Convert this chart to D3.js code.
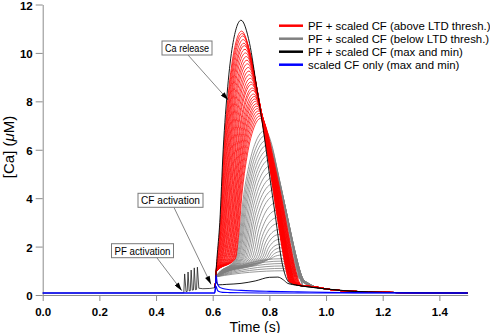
<!DOCTYPE html>
<html>
<head>
<meta charset="utf-8">
<script src="https://cdn.jsdelivr.net/npm/d3@7"></script>
<style>
body { margin: 0; background: #fff; }
svg { display: block; font-family: "Liberation Sans", Arial, sans-serif; }
</style>
</head>
<body>
<div class="container"></div>
<script>
/* Params */
const width = 490;
const height = 333;

/* Data */

// shared PF part of the "PF + scaled CF" traces: baseline, 5 PF spikes, plateau
const pfT = [0, 0.498, 0.501, 0.506, 0.510, 0.513, 0.517, 0.521, 0.524, 0.528, 0.532, 0.535, 0.539, 0.543, 0.546, 0.551, 0.565, 0.590, 0.607];
const pfY = [0.08, 0.09, 0.87, 0.14, 0.15, 0.95, 0.17, 0.18, 1.03, 0.20, 0.21, 1.12, 0.22, 0.23, 1.15, 0.28, 0.26, 0.27, 0.30];

// black traces after the CF (max and min)
const blackMaxT = [0.607, 0.610, 0.612, 0.615, 0.625, 0.637, 0.653, 0.670, 0.700, 0.730, 0.755, 0.779, 0.800, 0.822, 0.843, 0.860, 0.875, 0.900, 0.940, 1.0, 1.1, 1.2, 1.35, 1.5];
const blackMaxY = [0.30, 0.5, 1.0, 1.5, 3.0, 6.0, 8.6, 10.3, 11.35, 10.4, 8.6, 6.8, 5.0, 3.2, 1.44, 0.69, 0.48, 0.40, 0.33, 0.25, 0.15, 0.11, 0.09, 0.08];
const blackMinT = [0.607, 0.610, 0.612, 0.618, 0.650, 0.700, 0.750, 0.800, 0.830, 0.850, 0.865, 0.900, 0.940, 1.0, 1.1, 1.2, 1.35, 1.5];
const blackMinY = [0.30, 0.45, 0.55, 0.42, 0.44, 0.48, 0.58, 0.73, 0.74, 0.62, 0.48, 0.40, 0.33, 0.25, 0.15, 0.11, 0.09, 0.08];

// scaled CF only (max and min)
const blueMaxT = [0, 0.607, 0.610, 0.612, 0.616, 0.622, 0.635, 0.660, 0.700, 0.800, 0.900, 1.0, 1.1, 1.2, 1.5];
const blueMaxY = [0.08, 0.08, 0.50, 0.82, 0.50, 0.35, 0.27, 0.22, 0.19, 0.15, 0.13, 0.11, 0.10, 0.09, 0.08];
const blueMinT = [0, 0.607, 0.610, 0.612, 0.616, 0.622, 0.635, 0.660, 0.700, 0.800, 1.5];
const blueMinY = [0.08, 0.08, 0.25, 0.36, 0.22, 0.14, 0.11, 0.10, 0.09, 0.08, 0.08];

// shape of the CF transient (fraction of time / of amplitude)
const riseTau = [0, 0.12, 0.26, 0.45, 0.65, 1];
const riseFrac = [0, 0.15, 0.46, 0.72, 0.89, 1];
const fallTau = [0, 0.18, 0.33, 0.57, 0.77, 0.92, 1];
const fallFrac = [1, 0.91, 0.75, 0.48, 0.23, 0.06, 0];
const decayT = [0.92, 0.96, 1.0, 1.1, 1.2, 1.35, 1.5];
const decayY = [0.37, 0.34, 0.25, 0.15, 0.11, 0.09, 0.08];
const liftLevel = 1.5;
const endLevel = 0.55;

// red traces (above LTD thresh.): lift-off time, peak time, peak, end of fall
const redLift = [0.616, 0.617, 0.619, 0.620, 0.622, 0.624, 0.626, 0.628, 0.630, 0.632, 0.634, 0.636, 0.639, 0.641, 0.643, 0.646, 0.648, 0.651, 0.653, 0.656, 0.658, 0.661, 0.663, 0.666, 0.668, 0.671, 0.673, 0.675, 0.678, 0.680];
const redPeakT = [0.702, 0.704, 0.706, 0.708, 0.710, 0.712, 0.714, 0.716, 0.719, 0.721, 0.723, 0.726, 0.728, 0.730, 0.733, 0.735, 0.737, 0.740, 0.742, 0.744, 0.747, 0.749, 0.751, 0.754, 0.756, 0.758, 0.761, 0.764, 0.767, 0.770];
const redPeak = [10.9, 10.8, 10.7, 10.55, 10.4, 10.3, 10.15, 10.0, 9.85, 9.7, 9.55, 9.4, 9.25, 9.1, 8.95, 8.8, 8.7, 8.55, 8.45, 8.3, 8.2, 8.1, 8.0, 7.9, 7.8, 7.7, 7.6, 7.5, 7.4, 7.3];
const redEnd = [0.870, 0.871, 0.872, 0.873, 0.874, 0.875, 0.876, 0.877, 0.878, 0.879, 0.880, 0.881, 0.882, 0.883, 0.884, 0.885, 0.886, 0.887, 0.888, 0.889, 0.890, 0.891, 0.893, 0.895, 0.896, 0.898, 0.900, 0.901, 0.903, 0.905];

// gray traces (below LTD thresh.)
const grayLift = [0.680, 0.683, 0.686, 0.689, 0.692, 0.696, 0.700, 0.704, 0.708, 0.713, 0.718, 0.724, 0.730, 0.737, 0.744, 0.751, 0.758, 0.765, 0.772, 0.779, 0.786, 0.793, 0.800, 0.805, 0.810, 0.815, 0.820, 0.825, 0.830, 0.835];
const grayPeakT = [0.785, 0.788, 0.791, 0.794, 0.797, 0.800, 0.803, 0.806, 0.809, 0.812, 0.814, 0.817, 0.820, 0.823, 0.826, 0.828, 0.830, 0.832, 0.834, 0.836, 0.838, 0.840, 0.842, 0.843, 0.844, 0.845, 0.846, 0.847, 0.848, 0.849];
const grayPeak = [6.8, 6.6, 6.4, 6.2, 6.0, 5.8, 5.6, 5.35, 5.1, 4.85, 4.6, 4.35, 4.1, 3.8, 3.5, 3.2, 2.95, 2.7, 2.5, 2.3, 2.1, 1.95, 1.8, 1.65, 1.5, 1.4, 1.3, 1.2, 1.1, 1.0];
const grayEnd = [0.912, 0.913, 0.914, 0.915, 0.916, 0.917, 0.918, 0.919, 0.920, 0.921, 0.922, 0.922, 0.923, 0.923, 0.924, 0.924, 0.925, 0.925, 0.925, 0.926, 0.926, 0.926, 0.927, 0.927, 0.927, 0.927, 0.928, 0.928, 0.928, 0.928];

// axes, legend and notes
const xTicks = [0, 0.2, 0.4, 0.6, 0.8, 1.0, 1.2, 1.4];
const yTicks = [0, 2, 4, 6, 8, 10, 12];
const legendLabels = [
    'PF + scaled CF (above LTD thresh.)',
    'PF + scaled CF (below LTD thresh.)',
    'PF + scaled CF (max and min)',
    'scaled CF only (max and min)',
];
const legendColors = ['#ff0000', '#808080', '#000000', '#0000ff'];
const noteTexts = ['Ca release', 'CF activation', 'PF activation'];
const noteTargetT = [0.655, 0.594, 0.491];
const noteTargetY = [8.05, 0.44, 0.18];

/* Building traces */

function zip(ts, ys) {
    return ts.map((t, i) => [t, ys[i]]);
}
function transient(lift, peakT, peak, end, startY) {
    const pts = [[pfT[pfT.length - 1], pfY[pfY.length - 1]], [0.610, 0.5], [0.612, startY]];
    if (peak > liftLevel) {
        riseTau.forEach((u, i) => pts.push([lift + u * (peakT - lift), liftLevel + riseFrac[i] * (peak - liftLevel)]));
    } else {
        pts.push([peakT, peak]);
    }
    fallTau.slice(1).forEach((u, i) => pts.push([peakT + u * (end - peakT), endLevel + fallFrac[i + 1] * (peak - endLevel)]));
    decayT.forEach((t, i) => { if (t > end + 0.005) pts.push([t, decayY[i]]); });
    return pts;
}

function draw() {
    const x = d3.scaleLinear().domain([0, 1.5]).range([42.7, 467.7]);
    const y = d3.scaleLinear().domain([0, 12]).range([295, 4.5]);
    const line = d3.line().x(d => x(d[0])).y(d => y(d[1])).curve(d3.curveMonotoneX);
    const straight = d3.line().x(d => x(d[0])).y(d => y(d[1]));

    const svg = d3.select('.container')
        .append('svg')
        .attr('width', width)
        .attr('height', height)
        .style('background', '#fff');

    // axes
    const xAxis = svg.append('g')
        .attr('transform', 'translate(0,295)')
        .call(d3.axisBottom(x).tickValues(xTicks).tickFormat(d3.format('.1f')).tickSize(6).tickSizeOuter(0).tickPadding(7));
    const yAxis = svg.append('g')
        .attr('transform', 'translate(42.7,0)')
        .call(d3.axisLeft(y).tickValues(yTicks).tickFormat(d3.format('d')).tickSize(7).tickSizeOuter(0).tickPadding(3));
    [xAxis, yAxis].forEach(g => {
        g.selectAll('path, line').attr('stroke', '#8c8c8c');
        g.selectAll('text').attr('fill', '#000').style('font-size', '11.5px').style('font-weight', 'bold')
            .style('font-family', '"Liberation Sans", Arial, sans-serif');
    });
    yAxis.selectAll('text').attr('dy', '0.4em');

    const traces = svg.append('g');

    // gray family
    traces.selectAll('.gray')
        .data(grayPeak.map((p, i) => transient(grayLift[i], grayPeakT[i], p, grayEnd[i], 0.75)))
        .enter()
        .append('path')
        .attr('d', line)
        .attr('fill', 'none')
        .attr('stroke', '#808080')
        .attr('stroke-width', 0.8);

    // red family
    traces.selectAll('.red')
        .data(redPeak.map((p, i) => transient(redLift[i], redPeakT[i], p, redEnd[i], 0.95)))
        .enter()
        .append('path')
        .attr('d', line)
        .attr('fill', 'none')
        .attr('stroke', '#ff0000')
        .attr('stroke-width', 0.8);

    // black max and min: shared PF spikes, then the CF part
    traces.append('path')
        .datum(zip(pfT, pfY))
        .attr('d', straight)
        .attr('fill', 'none')
        .attr('stroke', '#222')
        .attr('stroke-width', 0.8);
    traces.selectAll('.black')
        .data([zip(blackMaxT, blackMaxY), zip(blackMinT, blackMinY)])
        .enter()
        .append('path')
        .attr('d', line)
        .attr('fill', 'none')
        .attr('stroke', '#000')
        .attr('stroke-width', 0.9);

    // blue max and min
    traces.selectAll('.blue')
        .data([zip(blueMaxT, blueMaxY), zip(blueMinT, blueMinY)])
        .enter()
        .append('path')
        .attr('d', line)
        .attr('fill', 'none')
        .attr('stroke', '#0000ff')
        .attr('stroke-width', 1.1);

    // axis titles
    const yTitle = svg.append('text')
        .attr('transform', 'translate(14,147) rotate(-90)')
        .attr('text-anchor', 'middle')
        .style('font-size', '15px');
    yTitle.append('tspan').text('[Ca] (');
    yTitle.append('tspan').style('font-style', 'italic').text('μ');
    yTitle.append('tspan').text('M)');
    svg.append('text')
        .attr('x', 255)
        .attr('y', 331.5)
        .attr('text-anchor', 'middle')
        .style('font-size', '14px')
        .text('Time (s)');

    // legend
    const legend = svg.append('g');
    legendLabels.forEach((label, i) => {
        const ly = 25.7 + i * 13;
        legend.append('line')
            .attr('x1', 279).attr('x2', 303)
            .attr('y1', ly).attr('y2', ly)
            .attr('stroke', legendColors[i])
            .attr('stroke-width', 2.5);
        legend.append('text')
            .attr('x', 308)
            .attr('y', ly)
            .attr('dy', '0.35em')
            .style('font-size', '11.4px')
            .text(label);
    });

    // annotations
    svg.append('defs').append('marker')
        .attr('id', 'head')
        .attr('viewBox', '0 0 10 6')
        .attr('refX', 10).attr('refY', 3)
        .attr('markerWidth', 9).attr('markerHeight', 5)
        .attr('markerUnits', 'userSpaceOnUse')
        .attr('orient', 'auto')
        .append('path')
        .attr('d', 'M0,0L10,3L0,6Z')
        .attr('fill', '#000');

    // box centres, widths and arrow starts, in pixels
    const boxes = [
        { cx: 187, cy: 48, w: 50, from: [188, 55] },
        { cx: 170.5, cy: 200.3, w: 65, from: [174, 207.5] },
        { cx: 142.5, cy: 250.7, w: 62, from: [156.7, 257.5] },
    ];
    noteTexts.forEach((txt, i) => {
        const b = boxes[i];
        const g = svg.append('g');
        g.append('line')
            .attr('x1', b.from[0]).attr('y1', b.from[1])
            .attr('x2', x(noteTargetT[i])).attr('y2', y(noteTargetY[i]))
            .attr('stroke', '#777')
            .attr('stroke-width', 0.9)
            .attr('marker-end', 'url(#head)');
        g.append('rect')
            .attr('x', b.cx - b.w / 2).attr('y', b.cy - 7)
            .attr('width', b.w).attr('height', 14)
            .attr('fill', '#fff')
            .attr('stroke', '#7a7a7a')
            .attr('stroke-width', 1);
        g.append('text')
            .attr('x', b.cx).attr('y', b.cy)
            .attr('dy', '0.36em')
            .attr('text-anchor', 'middle')
            .attr('textLength', b.w - 6)
            .attr('lengthAdjust', 'spacingAndGlyphs')
            .style('font-size', '11px')
            .text(txt);
    });
}

draw();
</script>
</body>
</html>
